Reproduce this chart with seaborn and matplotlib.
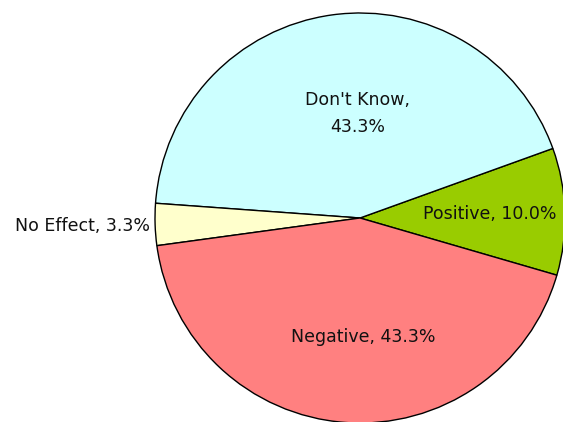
import numpy as np
import matplotlib
matplotlib.use("Agg")
import matplotlib.pyplot as plt
import seaborn as sns

# Survey responses: perceived effect
categories = ["Positive", "Don't Know", "No Effect", "Negative"]
shares = [10.0, 43.3, 3.3, 43.3]
colors = ["#99CC00", "#CCFFFF", "#FFFFCC", "#FF8080"]

sns.set_theme(style="white")
plt.rcParams["font.family"] = ["DejaVu Sans"]

W, H = 563, 422
fig = plt.figure(figsize=(W / 100, H / 100), dpi=100)
cx, cy, r = 360, 218, 205
ax = fig.add_axes([(cx - r) / W, (H - cy - r) / H, 2 * r / W, 2 * r / H])

wedges, _ = ax.pie(
    shares,
    colors=colors,
    startangle=-16.2,
    counterclock=True,
    wedgeprops=dict(edgecolor="black", linewidth=1.0),
    radius=1.0,
)
ax.set_xlim(-1, 1)
ax.set_ylim(-1, 1)
ax.set_axis_off()

# label anchors in pie-radius units, with alignment
label_pos = {
    "Positive": (0.634, 0.02, "center"),
    "Don't Know": (-0.01, 0.51, "center"),
    "No Effect": (-1.024, -0.04, "right"),
    "Negative": (0.017, -0.58, "center"),
}
for cat, val in zip(categories, shares):
    x, y, ha = label_pos[cat]
    if cat == "Don't Know":
        txt = f"{cat},\n{val:.1f}%"
    else:
        txt = f"{cat}, {val:.1f}%"
    ax.text(x, y, txt, ha=ha, va="center", fontsize=12.5, color="#111111",
            linespacing=1.6)

fig.savefig("out.png", dpi=100)
